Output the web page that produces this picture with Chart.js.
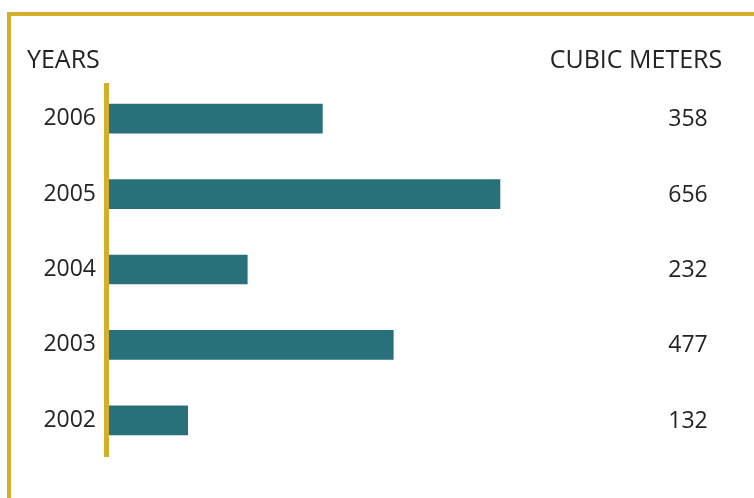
<!DOCTYPE html>
<html>
<head>
<meta charset="utf-8">
<script src="https://cdn.jsdelivr.net/npm/chart.js@4"></script>
<style>
  html, body { margin: 0; padding: 0; background: #fff; }
  #wrap { width: 754px; height: 498px; }
</style>
</head>
<body>
<div id="wrap"><canvas id="volChart" width="754" height="498"></canvas></div>
<script>
const years = ['2006', '2005', '2004', '2003', '2002'];
const cubicMeters = [358, 656, 232, 477, 132];
const xMax = 1000;

const gold = '#d3af2c';
const teal = '#28717a';
const ink = '#232323';

// frame, axis line, headers and value column
const decor = {
  id: 'decor',
  beforeDraw(chart) {
    const c = chart.ctx;
    c.save();
    c.fillStyle = gold;
    c.fillRect(7, 12, 754, 4);
    c.fillRect(7, 12, 4, 498);
    c.restore();
  },
  afterDatasetsDraw(chart) {
    const c = chart.ctx;
    const area = chart.chartArea;
    const y = chart.scales.y;
    c.save();
    c.fillStyle = gold;
    c.fillRect(area.left - 5, 83, 5, 374);

    c.fillStyle = ink;
    c.font = '25px "Open Sans"';
    c.textBaseline = 'alphabetic';
    c.textAlign = 'left';
    c.fillText('YEARS', 27, 68);
    c.textAlign = 'center';
    c.fillText('CUBIC METERS', 636, 68);

    c.font = '23px "Open Sans"';
    c.textBaseline = 'middle';
    cubicMeters.forEach((v, i) => {
      c.fillText(String(v), 688, y.getPixelForValue(i) + 1);
    });
    c.restore();
  }
};

new Chart(document.getElementById('volChart').getContext('2d'), {
  type: 'bar',
  data: {
    labels: years,
    datasets: [{
      data: cubicMeters,
      backgroundColor: teal,
      borderWidth: 0,
      barThickness: 29
    }]
  },
  options: {
    indexAxis: 'y',
    responsive: false,
    animation: false,
    layout: { padding: { top: 81, bottom: 40, right: 49, left: 0 } },
    plugins: { legend: { display: false }, tooltip: { enabled: false } },
    scales: {
      x: { display: false, min: 0, max: xMax },
      y: {
        afterFit(s) { s.width = 109; },
        grid: { display: false, drawTicks: false },
        border: { display: false },
        ticks: {
          color: ink,
          padding: 13,
          font: { family: 'Open Sans', size: 23 }
        }
      }
    }
  },
  plugins: [decor]
});
</script>
</body>
</html>
